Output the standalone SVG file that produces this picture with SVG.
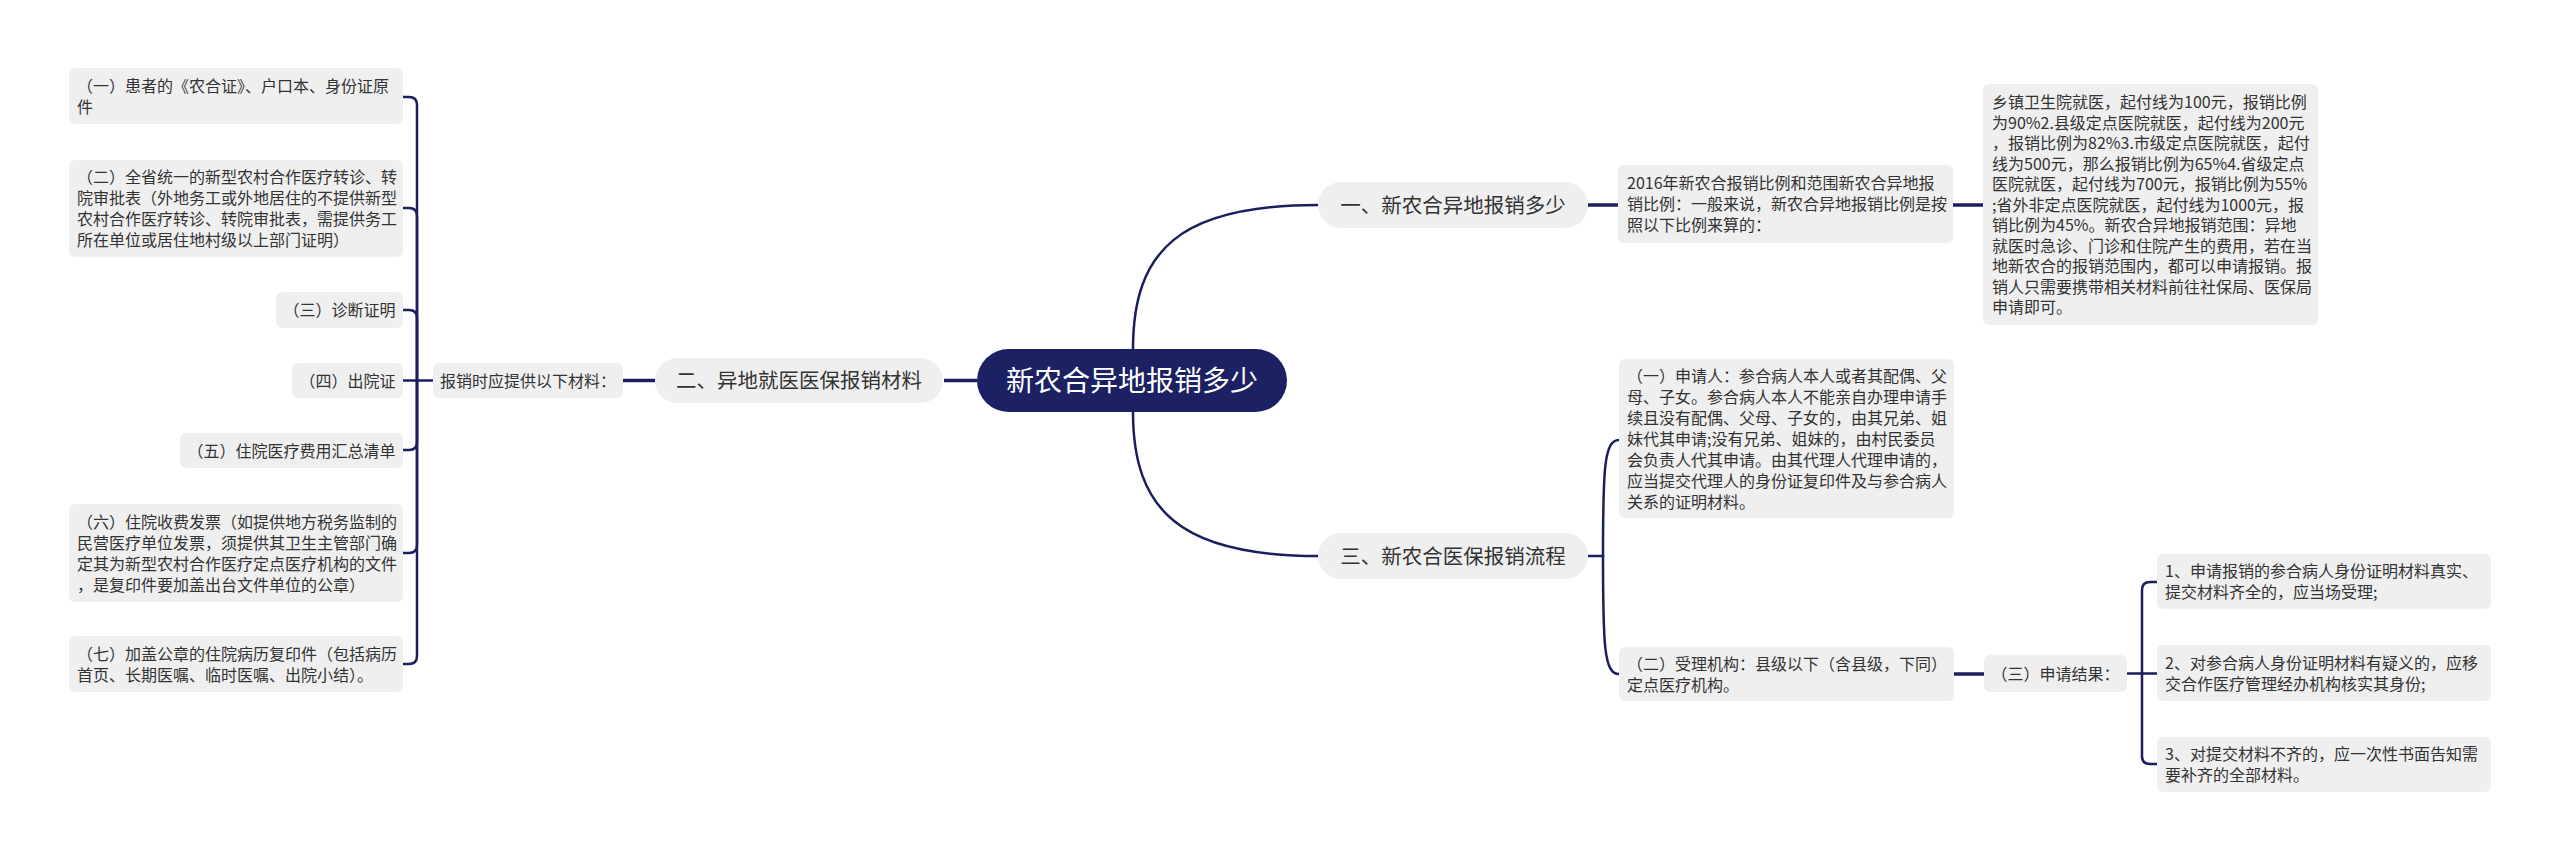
<svg xmlns="http://www.w3.org/2000/svg" width="2560" height="861" viewBox="0 0 2560 861">
<style>
.bg{fill:#ffffff}
.box{fill:#efefef}
.t{font-family:"Noto Sans CJK SC","Liberation Sans",sans-serif;font-size:16px;fill:#333333}
.tb{font-family:"Noto Sans CJK SC","Liberation Sans",sans-serif;font-size:20.5px;fill:#333333}
.tc{font-family:"Noto Sans CJK SC","Liberation Sans",sans-serif;font-size:28px;fill:#ffffff}
.ln{fill:none;stroke:#1b1f5e;stroke-width:2.5;stroke-linecap:round}
.lt{fill:none;stroke:#1b1f5e;stroke-width:3.5}
</style>
<rect class="bg" x="0" y="0" width="2560" height="861"/>
<g id="connectors">
<path class="lt" d="M944,380.5 H977"/>
<path class="lt" d="M623,380.5 H655"/>
<path class="ln" d="M433,380.5 H417"/>
<path class="ln" d="M417,380.5 V105 Q417,97 409,97 H403"/>
<path class="ln" d="M417,380.5 V216 Q417,208 409,208 H403"/>
<path class="ln" d="M417,380.5 V318 Q417,310 409,310 H403"/>
<path class="ln" d="M417,380.5 H403"/>
<path class="ln" d="M417,380.5 V442 Q417,450 409,450 H403"/>
<path class="ln" d="M417,380.5 V545 Q417,553 409,553 H403"/>
<path class="ln" d="M417,380.5 V656 Q417,664 409,664 H403"/>
<path class="ln" d="M1133,380 V349 C1133,250 1180,205 1318,205"/>
<path class="ln" d="M1133,380 V412 C1133,510 1180,556 1318,556"/>
<path class="lt" d="M1588,205 H1618"/>
<path class="lt" d="M1953,205 H1983"/>
<path class="ln" d="M1588,556 H1603"/>
<path class="ln" d="M1603,556 C1603,470 1604,440 1619,440"/>
<path class="ln" d="M1603,556 C1603,645 1604,674 1619,674"/>
<path class="lt" d="M1953,674 H1984"/>
<path class="ln" d="M2127,673.5 H2157"/>
<path class="ln" d="M2142,673.5 V590 Q2142,582 2150,582 H2157"/>
<path class="ln" d="M2142,673.5 V756 Q2142,764 2150,764 H2157"/>
</g>
<g id="root">
<rect x="977" y="349" width="310" height="63" rx="31.5" fill="#1c2163"/>
<text class="tc" x="1132" y="391" text-anchor="middle">新农合异地报销多少</text>
</g>
<g id="b1">
<rect class="box" x="1318" y="182" width="270" height="46" rx="23"/>
<text class="tb" x="1453" y="212.8" text-anchor="middle">一、新农合异地报销多少</text>
</g>
<g id="b1c1">
<rect class="box" x="1618" y="165" width="335" height="78" rx="6"/>
<text class="t" x="1627" y="189"><tspan x="1627">2016年新农合报销比例和范围新农合异地报</tspan><tspan x="1627" dy="21">销比例：一般来说，新农合异地报销比例是按</tspan><tspan x="1627" dy="21">照以下比例来算的：</tspan></text>
</g>
<g id="b1c2">
<rect class="box" x="1983" y="84" width="335" height="241" rx="6"/>
<text class="t" x="1992" y="108"><tspan x="1992">乡镇卫生院就医，起付线为100元，报销比例</tspan><tspan x="1992" dy="20.5">为90%2.县级定点医院就医，起付线为200元</tspan><tspan x="1992" dy="20.5">，报销比例为82%3.市级定点医院就医，起付</tspan><tspan x="1992" dy="20.5">线为500元，那么报销比例为65%4.省级定点</tspan><tspan x="1992" dy="20.5">医院就医，起付线为700元，报销比例为55%</tspan><tspan x="1992" dy="20.5">;省外非定点医院就医，起付线为1000元，报</tspan><tspan x="1992" dy="20.5">销比例为45%。新农合异地报销范围：异地</tspan><tspan x="1992" dy="20.5">就医时急诊、门诊和住院产生的费用，若在当</tspan><tspan x="1992" dy="20.5">地新农合的报销范围内，都可以申请报销。报</tspan><tspan x="1992" dy="20.5">销人只需要携带相关材料前往社保局、医保局</tspan><tspan x="1992" dy="20.5">申请即可。</tspan></text>
</g>
<g id="b2">
<rect class="box" x="655" y="358" width="288" height="45" rx="22.5"/>
<text class="tb" x="799" y="388.3" text-anchor="middle">二、异地就医医保报销材料</text>
</g>
<g id="b2c1">
<rect class="box" x="433" y="363" width="190" height="35" rx="6"/>
<text class="t" x="528" y="386.5" text-anchor="middle">报销时应提供以下材料：</text>
</g>
<g id="l1">
<rect class="box" x="69" y="68" width="334" height="56" rx="6"/>
<text class="t" x="77" y="91.5"><tspan x="77">（一）患者的《农合证》、户口本、身份证原</tspan><tspan x="77" dy="21">件</tspan></text>
</g>
<g id="l2">
<rect class="box" x="69" y="160" width="334" height="97" rx="6"/>
<text class="t" x="77" y="183"><tspan x="77">（二）全省统一的新型农村合作医疗转诊、转</tspan><tspan x="77" dy="21">院审批表（外地务工或外地居住的不提供新型</tspan><tspan x="77" dy="21">农村合作医疗转诊、转院审批表，需提供务工</tspan><tspan x="77" dy="21">所在单位或居住地村级以上部门证明）</tspan></text>
</g>
<g id="l3">
<rect class="box" x="276" y="292" width="127" height="36" rx="6"/>
<text class="t" x="339.5" y="316" text-anchor="middle">（三）诊断证明</text>
</g>
<g id="l4">
<rect class="box" x="292" y="363" width="111" height="35" rx="6"/>
<text class="t" x="347.5" y="386.5" text-anchor="middle">（四）出院证</text>
</g>
<g id="l5">
<rect class="box" x="180" y="433" width="223" height="35" rx="6"/>
<text class="t" x="291.5" y="456.5" text-anchor="middle">（五）住院医疗费用汇总清单</text>
</g>
<g id="l6">
<rect class="box" x="69" y="504" width="334" height="98" rx="6"/>
<text class="t" x="77" y="527.5"><tspan x="77">（六）住院收费发票（如提供地方税务监制的</tspan><tspan x="77" dy="21">民营医疗单位发票，须提供其卫生主管部门确</tspan><tspan x="77" dy="21">定其为新型农村合作医疗定点医疗机构的文件</tspan><tspan x="77" dy="21">，是复印件要加盖出台文件单位的公章）</tspan></text>
</g>
<g id="l7">
<rect class="box" x="69" y="636" width="334" height="56" rx="6"/>
<text class="t" x="77" y="659.5"><tspan x="77">（七）加盖公章的住院病历复印件（包括病历</tspan><tspan x="77" dy="21">首页、长期医嘱、临时医嘱、出院小结）。</tspan></text>
</g>
<g id="b3">
<rect class="box" x="1318" y="533" width="270" height="46" rx="23"/>
<text class="tb" x="1453" y="563.8" text-anchor="middle">三、新农合医保报销流程</text>
</g>
<g id="b3c1">
<rect class="box" x="1619" y="359" width="335" height="159" rx="6"/>
<text class="t" x="1627" y="381.5"><tspan x="1627">（一）申请人：参合病人本人或者其配偶、父</tspan><tspan x="1627" dy="21">母、子女。参合病人本人不能亲自办理申请手</tspan><tspan x="1627" dy="21">续且没有配偶、父母、子女的，由其兄弟、姐</tspan><tspan x="1627" dy="21">妹代其申请;没有兄弟、姐妹的，由村民委员</tspan><tspan x="1627" dy="21">会负责人代其申请。由其代理人代理申请的，</tspan><tspan x="1627" dy="21">应当提交代理人的身份证复印件及与参合病人</tspan><tspan x="1627" dy="21">关系的证明材料。</tspan></text>
</g>
<g id="b3c2">
<rect class="box" x="1619" y="647" width="335" height="54" rx="6"/>
<text class="t" x="1627" y="669.5"><tspan x="1627">（二）受理机构：县级以下（含县级，下同）</tspan><tspan x="1627" dy="21">定点医疗机构。</tspan></text>
</g>
<g id="b3c3">
<rect class="box" x="1984" y="655" width="143" height="37" rx="6"/>
<text class="t" x="2055.5" y="679.5" text-anchor="middle">（三）申请结果：</text>
</g>
<g id="r1">
<rect class="box" x="2157" y="554" width="334" height="55" rx="6"/>
<text class="t" x="2165" y="577"><tspan x="2165">1、申请报销的参合病人身份证明材料真实、</tspan><tspan x="2165" dy="21">提交材料齐全的，应当场受理;</tspan></text>
</g>
<g id="r2">
<rect class="box" x="2157" y="645" width="334" height="56" rx="6"/>
<text class="t" x="2165" y="668.5"><tspan x="2165">2、对参合病人身份证明材料有疑义的，应移</tspan><tspan x="2165" dy="21">交合作医疗管理经办机构核实其身份;</tspan></text>
</g>
<g id="r3">
<rect class="box" x="2157" y="737" width="334" height="55" rx="6"/>
<text class="t" x="2165" y="760"><tspan x="2165">3、对提交材料不齐的，应一次性书面告知需</tspan><tspan x="2165" dy="21">要补齐的全部材料。</tspan></text>
</g>
</svg>
